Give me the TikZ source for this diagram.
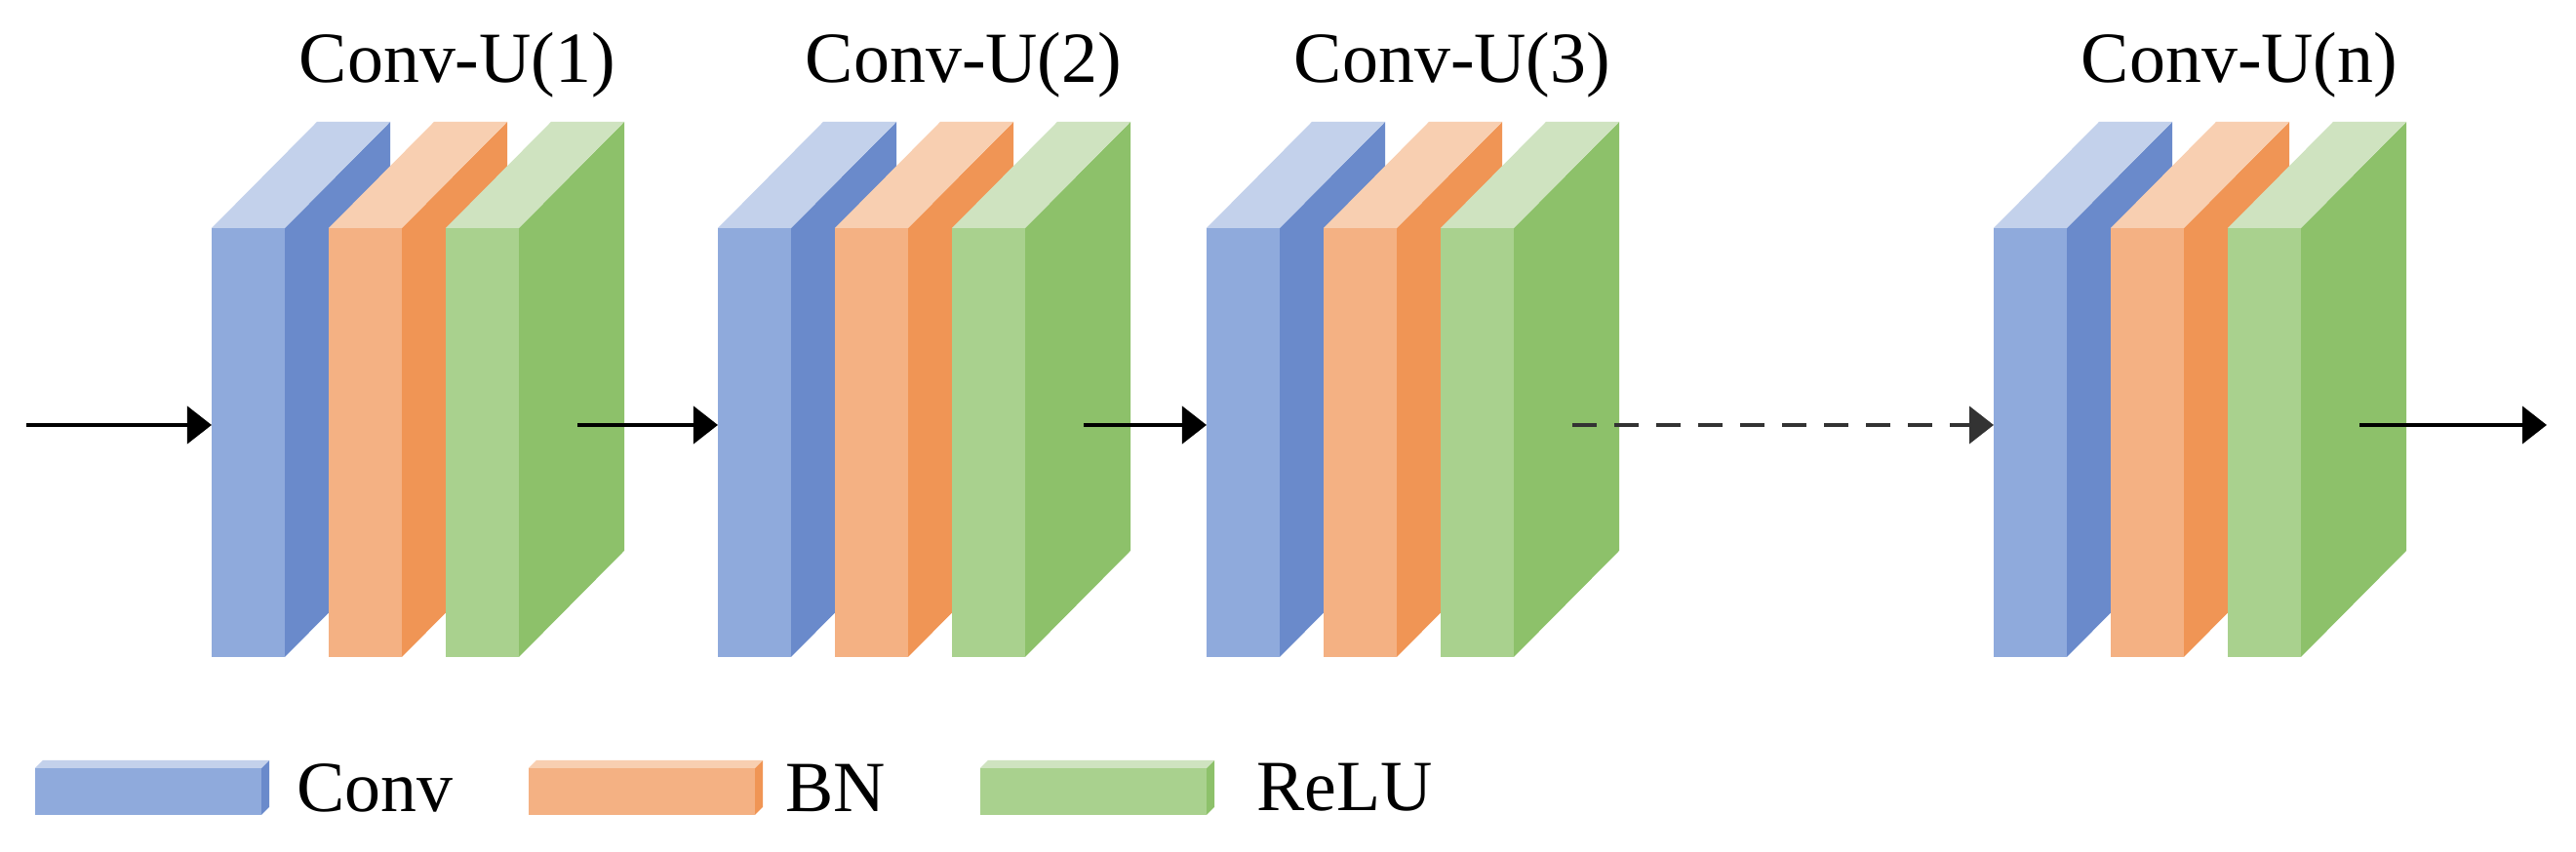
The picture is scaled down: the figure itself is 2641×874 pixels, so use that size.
\documentclass[tikz,border=0pt]{standalone}
\usepackage{fontspec}
\setmainfont{Liberation Serif}
\usetikzlibrary{arrows.meta}

\definecolor{convF}{HTML}{8FAADC}
\definecolor{convS}{HTML}{6A8ACB}
\definecolor{convT}{HTML}{C3D1EB}
\definecolor{bnF}{HTML}{F4B183}
\definecolor{bnS}{HTML}{F09555}
\definecolor{bnT}{HTML}{F8CFB1}
\definecolor{reluF}{HTML}{A9D18E}
\definecolor{reluS}{HTML}{8DC16A}
\definecolor{reluT}{HTML}{CFE3C0}

% one slab: left x, front, side, top colour
\newcommand\slab[4]{
  \fill[#2] (#1,200) rectangle ++(75,440);
  \fill[#3] (#1+75,200) -- ++(108,109) -- ++(0,440) -- ++(-108,-109) -- cycle;
  \fill[#4] (#1,640) -- ++(108,109) -- ++(75,0) -- ++(-108,-109) -- cycle;
}
% one unit: name, left x, title
\newcommand\convunit[3]{
  \slab{#2}{convF}{convS}{convT}
  \slab{#2+120}{bnF}{bnS}{bnT}
  \slab{#2+240}{reluF}{reluS}{reluT}
  \coordinate (#1-in) at (#2,438);
  \coordinate (#1-out) at (#2+375,438);
  \node[title] (#1-title) at (#2+252,807) {#3};
}
% legend bar: left x, front, side, top colour
\newcommand\legbar[4]{
  \fill[#2] (#1,38) rectangle ++(232,48);
  \fill[#3] (#1+232,38) -- ++(8,8) -- ++(0,48) -- ++(-8,-8) -- cycle;
  \fill[#4] (#1,86) -- ++(8,8) -- ++(232,0) -- ++(-8,-8) -- cycle;
}

\begin{document}
\begin{tikzpicture}[
    x=0.01cm, y=0.01cm,
    title/.style={font=\fontsize{21}{25}\selectfont, inner sep=0pt},
    legend/.style={font=\fontsize{21}{25}\selectfont, anchor=west, inner sep=0pt},
    flow/.style={line width=1.2pt, -{Triangle[length=0.25cm, width=0.38cm]}},
    skip/.style={flow, dash pattern=on 0.25cm off 0.18cm, draw=black!80}
  ]
  \useasboundingbox (0,0) rectangle (2641,874);

  \convunit{u1}{217}{Conv-U(1)}
  \convunit{u2}{736}{Conv-U(2)}
  \convunit{u3}{1237}{Conv-U(3)}
  \convunit{un}{2044}{Conv-U(n)}

  \coordinate (src) at (27,438);
  \coordinate (dst) at (2611,438);
  \draw[flow] (src) -- (u1-in);
  \draw[flow] (u1-out) -- (u2-in);
  \draw[flow] (u2-out) -- (u3-in);
  \draw[skip] (u3-out) -- (un-in);
  \draw[flow] (un-out) -- (dst);

  % legend
  \legbar{36}{convF}{convS}{convT}
  \node[legend] (l-conv) at (304,66) {Conv};
  \legbar{542}{bnF}{bnS}{bnT}
  \node[legend] (l-bn) at (805,66) {BN};
  \legbar{1005}{reluF}{reluS}{reluT}
  \node[legend] (l-relu) at (1288,66) {ReLU};
\end{tikzpicture}
\end{document}
